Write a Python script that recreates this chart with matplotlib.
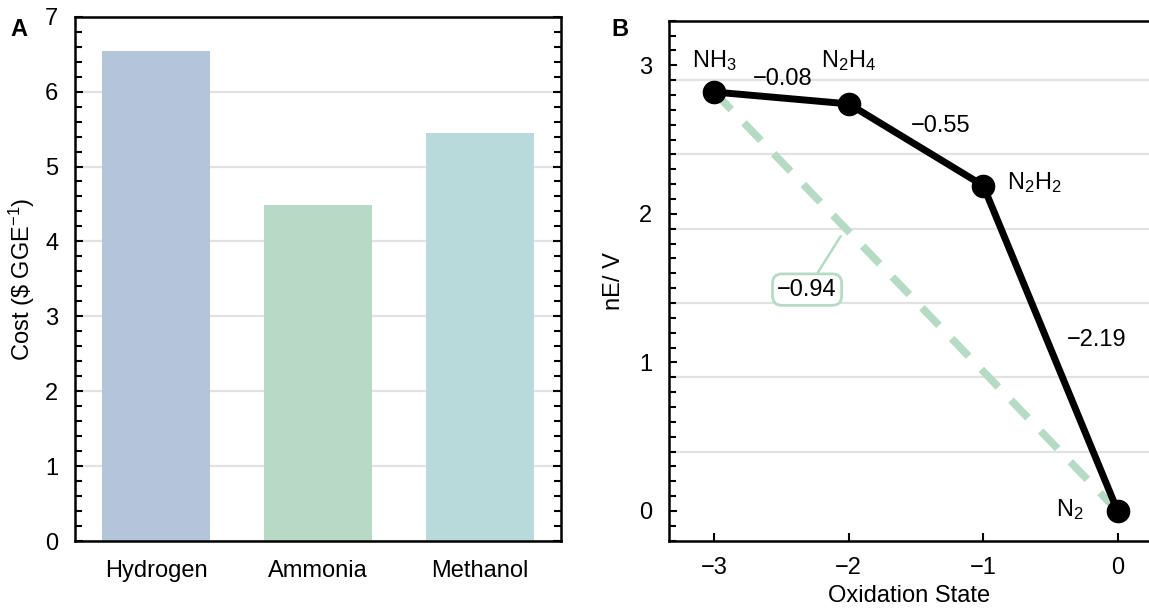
import matplotlib
matplotlib.use("Agg")
import matplotlib.pyplot as plt
from matplotlib.ticker import MultipleLocator
import numpy as np

plt.rcParams['font.family'] = ['Liberation Sans', 'DejaVu Sans']
plt.rcParams['axes.unicode_minus'] = True
plt.rcParams['mathtext.fontset'] = 'custom'
plt.rcParams['mathtext.rm'] = 'Liberation Sans'
plt.rcParams['mathtext.it'] = 'Liberation Sans'
plt.rcParams['mathtext.default'] = 'regular'

# ---- Panel A data ----
fuels = ["Hydrogen", "Ammonia", "Methanol"]
costs = [6.54, 4.49, 5.45]
bar_colors = ["#b4c4d9", "#b7d9c5", "#b8dadb"]

# ---- Panel B data ----
ox_state = [-3, -2, -1, 0]
nE = [2.82, 2.74, 2.19, 0.0]
species = ["NH$_3$", "N$_2$H$_4$", "N$_2$H$_2$", "N$_2$"]
step_potentials = ["\u22120.08", "\u22120.55", "\u22122.19"]
overall_potential = "\u22120.94"

fig = plt.figure(figsize=(11.49, 6.11), dpi=100)
W, H = 1149, 611
FS = 17

def px_axes(x0, y0, x1, y1):
    return fig.add_axes([x0 / W, 1 - y1 / H, (x1 - x0) / W, (y1 - y0) / H])

# ================= Panel A =================
axA = px_axes(75, 16.7, 561, 541)
xA = np.arange(len(fuels))
axA.bar(xA, costs, width=0.67, color=bar_colors, zorder=2, linewidth=0)
axA.set_xlim(-0.5, 2.5)
axA.set_ylim(0, 7)
axA.yaxis.set_major_locator(MultipleLocator(1))
axA.yaxis.set_minor_locator(MultipleLocator(0.2))
axA.grid(axis='y', which='major', color='#e2e2e2', linewidth=1.6, zorder=0)
axA.set_axisbelow(True)
axA.set_xticks(xA)
axA.set_xticklabels(fuels, fontsize=FS)
axA.tick_params(axis='x', length=0, pad=14)
axA.tick_params(axis='y', which='both', direction='in', left=True, right=True,
                labelsize=FS, width=1.5, pad=12)
axA.tick_params(axis='y', which='major', length=6)
axA.tick_params(axis='y', which='minor', length=5)
for s in axA.spines.values():
    s.set_linewidth(1.8)
axA.set_ylabel("Cost (\\$ GGE$^{-1}$)", fontsize=FS, labelpad=6)
fig.text(10 / W, 1 - 30 / H, "A", fontsize=17, fontweight='bold', va='center', ha='left')

# ================= Panel B =================
axB = px_axes(669, 20.7, 1149, 540.7)
axB.set_xlim(-3.337, 0.233)
axB.set_ylim(-0.2, 3.3)
axB.yaxis.set_major_locator(MultipleLocator(1))
axB.yaxis.set_minor_locator(MultipleLocator(0.1))
axB.xaxis.set_major_locator(MultipleLocator(1))
for g in np.arange(0.4, 3.0, 0.5):
    axB.axhline(g, color='#e2e2e2', linewidth=1.6, zorder=0)

# overall (dashed) line NH3 -> N2
axB.plot([ox_state[0], ox_state[-1]], [nE[0], nE[-1]], color='#b5dbc5', lw=5.5,
         dashes=(3.2, 2.4), zorder=2, solid_capstyle='butt')
axB.plot(ox_state, nE, color='black', lw=5, marker='o', markersize=16, zorder=3)

axB.tick_params(axis='both', which='both', direction='in', width=1.5, labelsize=FS)
axB.tick_params(axis='y', which='major', length=6, pad=12)
axB.tick_params(axis='y', which='minor', length=5)
axB.tick_params(axis='x', which='major', length=6, pad=12)
axB.spines['right'].set_visible(False)
for s in axB.spines.values():
    s.set_linewidth(1.8)
axB.set_xlabel("Oxidation State", fontsize=FS, labelpad=4)
axB.set_ylabel("nE/ V", fontsize=FS, labelpad=10)
fig.text(620 / W, 1 - 30 / H, "B", fontsize=17, fontweight='bold', va='center', ha='center')

axB.text(-3.0, 3.03, species[0], fontsize=FS, ha='center', va='center')
axB.text(-2.0, 3.03, species[1], fontsize=FS, ha='center', va='center')
axB.text(-0.82, 2.21, species[2], fontsize=FS, ha='left', va='center')
axB.text(-0.355, 0.01, species[3], fontsize=FS, ha='center', va='center')
axB.text(-2.49, 2.91, step_potentials[0], fontsize=FS, ha='center', va='center')
axB.text(-1.32, 2.59, step_potentials[1], fontsize=FS, ha='center', va='center')
axB.text(-0.155, 1.15, step_potentials[2], fontsize=FS, ha='center', va='center')

axB.annotate(overall_potential, xy=(-2.06, 1.85), xytext=(-2.31, 1.49),
             fontsize=FS, ha='center', va='center', zorder=4,
             bbox=dict(boxstyle='round,pad=0.2,rounding_size=0.4', fc='white',
                       ec='#b5dbc5', lw=2),
             arrowprops=dict(arrowstyle='-', color='#b5dbc5', lw=1.8,
                             shrinkA=0, shrinkB=0))

fig.savefig("out.png", dpi=100)
